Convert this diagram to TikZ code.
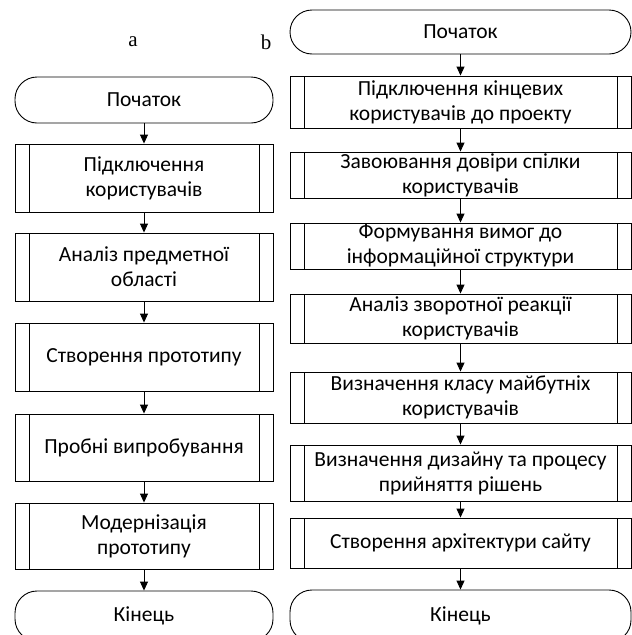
\documentclass[tikz,border=0pt]{standalone}
\usepackage{fontspec}
\setmainfont{Carlito}
\newfontfamily\labelfont{Liberation Serif}
\usetikzlibrary{arrows.meta}
\begin{document}
\begin{tikzpicture}[x=1pt,y=-1pt,line width=0.9pt,
  every node/.style={font=\fontsize{21.5}{25}\selectfont,align=center,inner sep=0pt},
  term/.style={draw,rectangle,rounded corners=22pt},
  proc/.style={draw,rectangle,
    path picture={
      \draw ([xshift=14pt]path picture bounding box.north west) -- ([xshift=14pt]path picture bounding box.south west);
      \draw ([xshift=-14pt]path picture bounding box.north east) -- ([xshift=-14pt]path picture bounding box.south east);
    }},
  lcol/.style={minimum width=258pt},
  rcol/.style={minimum width=341pt},
  flow/.style={-{Triangle[length=9pt,width=8pt]}},
  tag/.style={font=\labelfont\fontsize{21}{22}\selectfont}]
\useasboundingbox (0,0) rectangle (632,635);
\clip (0,0) rectangle (632,635);

% column labels
\node[tag] (la) at (133,42) {a};
\node[tag] (lb) at (266,42) {b};

% left flowchart
\node[term,lcol,minimum height=46pt] (sa) at (144,100) {Початок};
\node[proc,lcol,minimum height=68pt] (a1) at (144,178) {Підключення\\користувачів};
\node[proc,lcol,minimum height=68pt] (a2) at (144,267) {Аналіз предметної\\області};
\node[proc,lcol,minimum height=68pt] (a3) at (144,357) {Створення прототипу};
\node[proc,lcol,minimum height=67pt] (a4) at (144,447.5) {Пробні випробування};
\node[proc,lcol,minimum height=66pt] (a5) at (144,536) {Модернізація\\прототипу};
\node[term,lcol,minimum height=50pt] (ea) at (144,616) {Кінець};

\foreach \p/\q in {sa/a1,a1/a2,a2/a3,a3/a4,a4/a5,a5/ea}
  \draw[flow] (\p) -- (\q);

% right flowchart
\node[term,rcol,minimum height=44pt] (sb) at (460.5,32) {Початок};
\node[proc,rcol,minimum height=52pt] (b1) at (460.5,102) {Підключення кінцевих\\користувачів до проекту};
\node[proc,rcol,minimum height=46pt] (b2) at (460.5,175) {Завоювання довіри спілки\\користувачів};
\node[proc,rcol,minimum height=46pt] (b3) at (460.5,246) {Формування вимог до\\інформаційної структури};
\node[proc,rcol,minimum height=49pt] (b4) at (460.5,318.5) {Аналіз зворотної реакції\\користувачів};
\node[proc,rcol,minimum height=51pt] (b5) at (460.5,397.5) {Визначення класу майбутніх\\користувачів};
\node[proc,rcol,minimum height=56pt] (b6) at (460.5,473) {Визначення дизайну та процесу\\прийняття рішень};
\node[proc,rcol,minimum height=50pt] (b7) at (460.5,543) {Створення архітектури сайту};
\node[term,rcol,minimum height=52pt] (eb) at (460.5,616) {Кінець};

\foreach \p/\q in {sb/b1,b1/b2,b2/b3,b3/b4,b4/b5,b5/b6,b6/b7,b7/eb}
  \draw[flow] (\p) -- (\q);
\end{tikzpicture}
\end{document}
